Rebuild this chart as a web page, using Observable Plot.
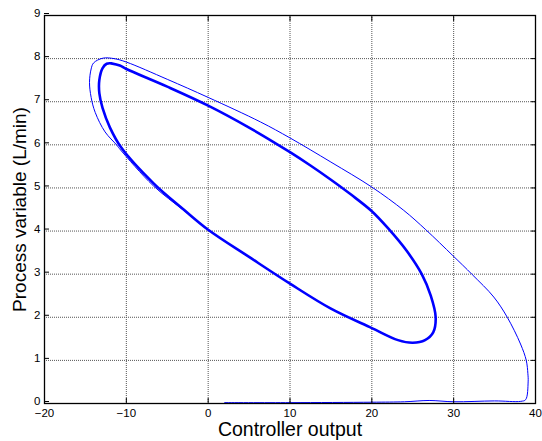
<!DOCTYPE html>
<html><head><meta charset="utf-8">
<script src="https://cdn.jsdelivr.net/npm/d3@7"></script>
<script src="https://cdn.jsdelivr.net/npm/@observablehq/plot@0.6"></script>
<style>body{margin:0;background:#fff}</style>
</head><body><div id="chart"></div>
<script>
const xTicks = [-20, -10, 0, 10, 20, 30, 40];
const yTicks = [0, 1, 2, 3, 4, 5, 6, 7, 8, 9];
const xLabel = "Controller output";
const yLabel = "Process variable (L/min)";

// limit cycle (thick loop)
const cycleX = [-11.85, -10.8, -10, -5, 0, 5, 10, 12.5, 15, 17.5, 20, 22.0, 24.3, 26.1, 27.2, 27.8, 27.5, 26.5, 25.0, 23.2, 20.0, 15, 10, 5, 0, -3, -6.64, -10.6, -12.0, -12.9, -13.3, -13.3, -12.9, -12.4, -11.85];
const cycleY = [7.89, 7.84, 7.76, 7.35, 6.91, 6.4, 5.83, 5.52, 5.19, 4.84, 4.46, 4.06, 3.53, 3.0, 2.5, 2.0, 1.65, 1.47, 1.41, 1.47, 1.75, 2.2, 2.78, 3.4, 4.03, 4.5, 5.1, 5.93, 6.4, 6.85, 7.2, 7.5, 7.78, 7.88, 7.89];

// start-up transient (thin line)
const transX = [2, 10, 20, 24, 27, 30, 35, 38.2, 38.8, 39.1, 39.07, 38.87, 38.17, 36.55, 34.9, 32.27, 29.9, 26.6, 23.9, 20, 15, 10, 6.4, 0, -5, -10, -11.5, -12.87, -14.0, -14.3, -14.5, -14.3, -13.8, -12.6, -11.2, -10.7, -6.7, -3, 0];
const transY = [0.02, 0.02, 0.03, 0.04, 0.07, 0.04, 0.06, 0.05, 0.09, 0.5, 0.69, 1.0, 1.38, 2.0, 2.47, 2.99, 3.43, 4.03, 4.48, 5.02, 5.6, 6.16, 6.53, 7.1, 7.52, 7.92, 8.0, 8.01, 7.9, 7.76, 7.45, 7.1, 6.75, 6.3, 6.0, 5.88, 5.05, 4.48, 4.02];

const cycle = cycleX.map((x, i) => ({x, y: cycleY[i]}));
const trans = transX.map((x, i) => ({x, y: transY[i]}));

const blue = "#0000ff";
const chart = Plot.plot({
  width: 542, height: 441,
  marginLeft: 44, marginRight: 7, marginTop: 15, marginBottom: 38,
  x: {domain: [-20, 40]},
  y: {domain: [0, 9]},
  style: {fontFamily: "'Liberation Sans', Arial, Helvetica, sans-serif", background: "#fff", color: "#000"},
  marks: [
    Plot.gridX(xTicks, {stroke: "#555", strokeOpacity: 1, strokeDasharray: "1,1"}),
    Plot.gridY(yTicks, {stroke: "#555", strokeOpacity: 1, strokeDasharray: "1,1"}),
    Plot.line(trans, {x: "x", y: "y", stroke: blue, strokeWidth: 1, curve: "catmull-rom"}),
    Plot.line(cycle, {x: "x", y: "y", stroke: blue, strokeWidth: 2.6, curve: "catmull-rom"}),
    Plot.axisX(xTicks, {anchor: "bottom", tickSize: -5, tickPadding: 10, fontSize: 11.5, label: null}),
    Plot.axisX(xTicks, {anchor: "top", tickSize: -5, tickFormat: () => "", label: null}),
    Plot.axisY(yTicks, {anchor: "left", tickSize: -5, tickPadding: 9, dy: -2, fontSize: 11.5, label: null}),
    Plot.axisY(yTicks, {anchor: "right", tickSize: -5, tickFormat: () => "", label: null}),
    Plot.frame({stroke: "#000", strokeWidth: 1.3}),
    Plot.text([xLabel], {frameAnchor: "bottom", dy: 32, lineAnchor: "bottom", fontSize: 19.5}),
    Plot.text([yLabel], {frameAnchor: "left", dx: -25, rotate: -90, textAnchor: "middle", fontSize: 19})
  ]
});
document.getElementById("chart").append(chart);
</script>
</body></html>
